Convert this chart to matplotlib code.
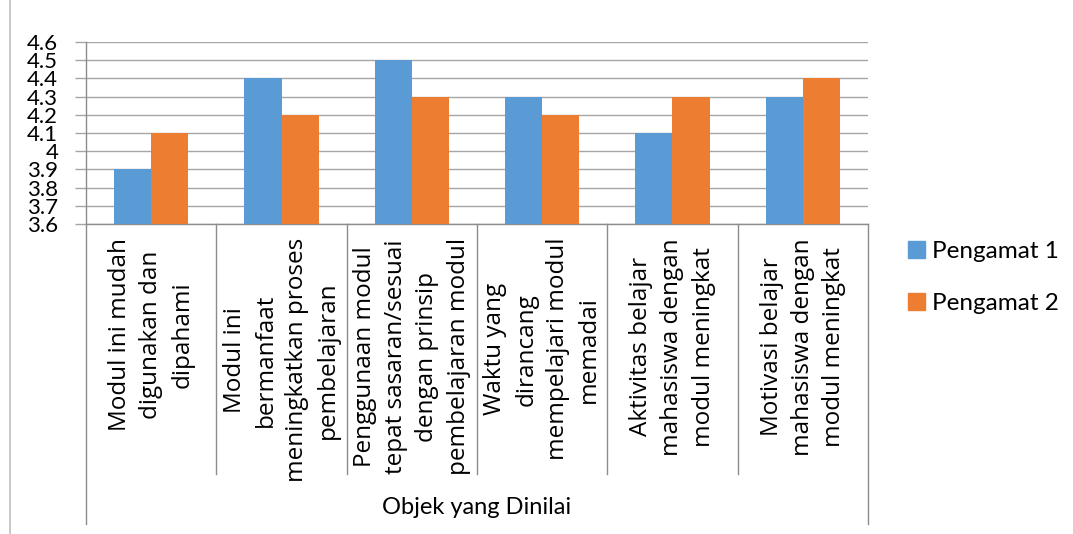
import numpy as np
import matplotlib.pyplot as plt
import matplotlib.transforms as mtransforms
from matplotlib.lines import Line2D
from matplotlib.patches import Patch

# data
categories = [
    "Modul ini mudah\ndigunakan dan\ndipahami",
    "Modul ini\nbermanfaat\nmeningkatkan proses\npembelajaran",
    "Penggunaan modul\ntepat sasaran/sesuai\ndengan prinsip\npembelajaran modul",
    "Waktu yang\ndirancang\nmempelajari modul\nmemadai",
    "Aktivitas belajar\nmahasiswa dengan\nmodul meningkat",
    "Motivasi belajar\nmahasiswa dengan\nmodul meningkat",
]
pengamat1 = [3.9, 4.4, 4.5, 4.3, 4.1, 4.3]
pengamat2 = [4.1, 4.2, 4.3, 4.2, 4.3, 4.4]
series_names = ["Pengamat 1", "Pengamat 2"]
group_label = "Objek yang Dinilai"
yticks = [3.6, 3.7, 3.8, 3.9, 4.0, 4.1, 4.2, 4.3, 4.4, 4.5, 4.6]
ytick_labels = ["3.6", "3.7", "3.8", "3.9", "4", "4.1", "4.2", "4.3", "4.4", "4.5", "4.6"]

BLUE = "#5B9BD5"
ORANGE = "#ED7D31"
GRID = "#A6A6A6"
AXIS = "#8C8C8C"

W, H = 1073, 534
fig = plt.figure(figsize=(W / 100, H / 100), dpi=100)

# plot area in pixels: x 86..868, y 42..224
ax = fig.add_axes([86 / W, (H - 224) / H, (868 - 86) / W, (224 - 42) / H])

x = np.arange(len(categories))
bw = 0.285
ax.bar(x - bw / 2, np.array(pengamat1) - 3.6, bw, bottom=3.6, color=BLUE, zorder=3)
ax.bar(x + bw / 2, np.array(pengamat2) - 3.6, bw, bottom=3.6, color=ORANGE, zorder=3)

ax.set_xlim(-0.5, len(categories) - 0.5)
ax.set_ylim(3.6, 4.6)
ax.set_yticks(yticks)
ax.set_yticklabels(ytick_labels, fontfamily="Lato", fontsize=16)
ax.tick_params(axis="y", length=8, color=GRID, pad=12, width=1)
ax.set_xticks([])
ax.yaxis.grid(True, color=GRID, linewidth=1, zorder=0)

for s in ["top", "right"]:
    ax.spines[s].set_visible(False)
for s in ["left", "bottom"]:
    ax.spines[s].set_color(AXIS)
    ax.spines[s].set_linewidth(1)

trans = mtransforms.blended_transform_factory(ax.transData, ax.transAxes)
ph = 224 - 42
inner_end = -(474 - 224) / ph
outer_end = -(524 - 224) / ph
for k in range(len(categories) + 1):
    xb = k - 0.5
    yend = outer_end if k in (0, len(categories)) else inner_end
    ax.add_line(Line2D([xb, xb], [0, yend], transform=trans, color=AXIS,
                       linewidth=1, clip_on=False))

for i, lab in enumerate(categories):
    ax.text(i, -14 / ph, lab, transform=trans, rotation=90, ha="center", va="top",
            multialignment="center", fontfamily="Open Sans", fontsize=17.5,
            linespacing=1.4)

ax.text(0.5, -(508 - 224) / ph, group_label, transform=ax.transAxes,
        ha="center", va="center", fontfamily="Lato", fontsize=17)

# left chart border
fig.add_artist(Line2D([10 / W, 10 / W], [0, 1], transform=fig.transFigure,
                      color="#BFBFBF", linewidth=1.2))

handles = [Patch(color=BLUE), Patch(color=ORANGE)]
fig.legend(handles, series_names, loc="upper left", bbox_to_anchor=(0.826, 0.59),
           frameon=False, prop={"family": "Lato", "size": 17.5},
           handlelength=0.7, handleheight=0.7, handletextpad=0.3, labelspacing=1.3)

fig.savefig("out.png", dpi=100)
